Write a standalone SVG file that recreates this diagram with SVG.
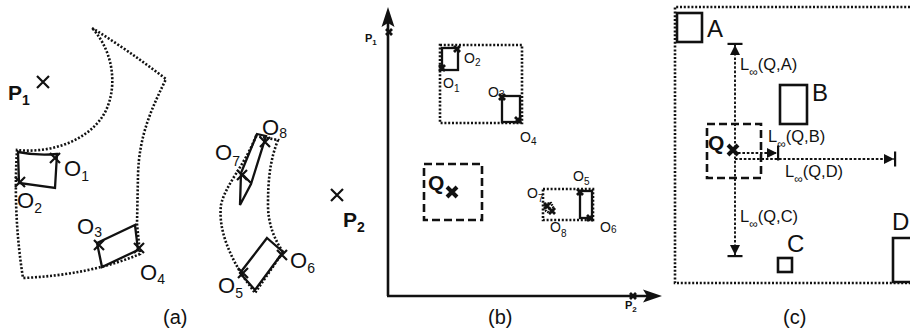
<svg xmlns="http://www.w3.org/2000/svg" width="910" height="335" viewBox="0 0 910 335">
<style>
.dot{fill:none;stroke:#111;stroke-width:2.6;stroke-dasharray:2 1.8}
.sol{fill:none;stroke:#111;stroke-width:2.3}
.sol2{fill:none;stroke:#111;stroke-width:2.6}
.x{fill:none;stroke:#111;stroke-width:2.2}
.xb{fill:none;stroke:#111;stroke-width:2.8}
.xq{fill:none;stroke:#111;stroke-width:4}
.dash{fill:none;stroke:#111;stroke-width:2.6;stroke-dasharray:8 4}
.conn{fill:none;stroke:#111;stroke-width:1.9;stroke-dasharray:2.6 1.8}
.axis{fill:none;stroke:#111;stroke-width:2.6}
text{font-family:"Liberation Sans",Arial,sans-serif;fill:#111}
.oa{font-size:22px}
.sa{font-size:14px}
.ob{font-size:14px}
.sb{font-size:10px}
.big{font-size:24px}
.pb{font-weight:bold}
.cap{font-size:20px}
.lt{font-size:16.5px}
.inf{font-size:12px}
</style>
<defs>
<marker id="tee" viewBox="0 -8 13 16" markerWidth="13" markerHeight="16" refX="11" refY="0" orient="auto" markerUnits="userSpaceOnUse">
<path d="M0 -5 L10 0 L0 5 Z" fill="#111"/>
<rect x="10" y="-7.5" width="2.2" height="15" fill="#111"/>
</marker>
</defs>

<!-- Panel (a) -->
<g id="panel-a">
<g id="region-a1">
<path class="dot" d="M 92 28 Q 128 50 166 79 C 152 108 139 135 138 175 L 137 224 L 140 254 Q 90 275 23 278 Q 13 215 17 150 C 45 153 80 145 100 120 C 118 97 117 55 92 28 Z"/>
</g>
<g id="a-O1O2">
<path class="sol" d="M 18 152 Q 38 156 57 154 L 55 188 L 19 183 Z"/>
<path class="x" d="M 50 153 L 60 163 M 60 153 L 50 163"/>
<path class="x" d="M 15 177 L 25 187 M 25 177 L 15 187"/>
<text class="oa" x="64" y="176">O<tspan class="sa" dy="5">1</tspan></text>
<text class="oa" x="17" y="208">O<tspan class="sa" dy="5">2</tspan></text>
</g>
<g id="a-O3O4">
<path class="sol" d="M 97 243 L 135 225 L 138 250 L 102 267 Z"/>
<path class="x" d="M 94 240 L 104 250 M 104 240 L 94 250"/>
<path class="x" d="M 134 243 L 144 253 M 144 243 L 134 253"/>
<text class="oa" x="77" y="234">O<tspan class="sa" dy="3">3</tspan></text>
<text class="oa" x="140" y="280">O<tspan class="sa" dy="4">4</tspan></text>
</g>
<g id="region-a2">
<path class="dot" d="M 256 136 C 245 165 225 185 221 205 C 218 230 230 255 242 275 L 255 293 L 283 252 C 275 240 268 225 268 205 C 268 180 270 160 278 140 Z"/>
</g>
<g id="a-O5O6">
<path class="sol" d="M 267 238 L 283 252 L 255 290 L 240 273 Z"/>
<path class="x" d="M 238 268 L 248 278 M 248 268 L 238 278"/>
<path class="x" d="M 277 250 L 287 260 M 287 250 L 277 260"/>
<text class="oa" x="218" y="293">O<tspan class="sa" dy="5">5</tspan></text>
<text class="oa" x="290" y="268">O<tspan class="sa" dy="5">6</tspan></text>
</g>
<g id="a-O7O8">
<path class="sol" d="M 257 134 L 266 136 L 251 184 L 240 205 L 241 173 Z M 241 173 L 251 183"/>
<path class="x" d="M 237 170 L 247 180 M 247 170 L 237 180"/>
<path class="x" d="M 260 137 L 270 147 M 270 137 L 260 147"/>
<text class="oa" x="215" y="160">O<tspan class="sa" dy="6">7</tspan></text>
<text class="oa" x="262" y="135">O<tspan class="sa" dy="3">8</tspan></text>
</g>
<g id="a-P1">
<path class="x" d="M 37 76 L 49 88 M 49 76 L 37 88"/>
<text class="pb" font-size="21" x="8" y="100">P<tspan class="sa" dy="5">1</tspan></text>
</g>
<g id="a-P2">
<path class="x" d="M 331 189 L 343 201 M 343 189 L 331 201"/>
<text class="pb" font-size="21" x="343" y="227">P<tspan class="sa" dy="5">2</tspan></text>
</g>
<text class="cap" x="163" y="324">(a)</text>
</g>

<!-- Panel (b) -->
<g id="panel-b">
<g id="b-axes">
<path class="axis" d="M 388 296 L 388 22 M 387 296 L 648 296"/>
<path d="M 388 7 L 394.5 27 L 388 23 L 381.5 27 Z" fill="#111"/>
<path d="M 662 296 L 643 289.5 L 647 296 L 643 302.5 Z" fill="#111"/>
<path class="xb" d="M 386 29 L 392 35 M 392 29 L 386 35"/>
<text class="pb" font-size="11" x="365" y="42">P<tspan font-size="8" dy="3">1</tspan></text>
<path class="xb" d="M 630 293 L 636 299 M 636 293 L 630 299"/>
<text class="pb" font-size="11" x="625" y="309">P<tspan font-size="8" dy="3">2</tspan></text>
</g>
<g id="b-group1">
<rect class="dot" x="440" y="45" width="82" height="78"/>
<rect class="sol" x="442" y="48" width="16" height="22"/>
<path class="xb" d="M 454 46 L 460 52 M 460 46 L 454 52"/>
<path class="xb" d="M 439 65 L 445 71 M 445 65 L 439 71"/>
<text class="ob" x="464" y="63">O<tspan class="sb" dy="3">2</tspan></text>
<text class="ob" x="443" y="88">O<tspan class="sb" dy="4">1</tspan></text>
<rect class="sol" x="502" y="96" width="18" height="26"/>
<path class="xb" d="M 499 94 L 505 100 M 505 94 L 499 100"/>
<path class="xb" d="M 515 117 L 521 123 M 521 117 L 515 123"/>
<text class="ob" x="488" y="97">O<tspan class="sb" dy="1">3</tspan></text>
<text class="ob" x="520" y="142">O<tspan class="sb" dy="3">4</tspan></text>
</g>
<g id="b-group2">
<rect class="dot" x="543" y="189" width="50" height="31"/>
<rect class="sol" x="580" y="191" width="12" height="27"/>
<path class="xb" d="M 577 189 L 583 195 M 583 189 L 577 195"/>
<path class="xb" d="M 587 215 L 593 221 M 593 215 L 587 221"/>
<path d="M 545 204 L 551 203 L 554 209 L 550 213 L 546 211 Z" fill="none" stroke="#111" stroke-width="2.4" stroke-dasharray="1.5 1"/>
<path class="xb" d="M 544 203 L 550 209 M 550 203 L 544 209"/>
<path class="xb" d="M 549 208 L 555 214 M 555 208 L 549 214"/>
<text class="ob" x="573" y="181">O<tspan class="sb" dy="4">5</tspan></text>
<text class="ob" x="600" y="232">O<tspan class="sb" dy="1">6</tspan></text>
<text class="ob" x="527" y="198">O<tspan class="sb" dy="4">7</tspan></text>
<text class="ob" x="550" y="232">O<tspan class="sb" dy="5">8</tspan></text>
</g>
<g id="b-Q">
<rect class="dash" x="424" y="164" width="58" height="56"/>
<path class="xq" d="M 447 187 L 457 197 M 457 187 L 447 197"/>
<text class="pb" font-size="21" x="428" y="190">Q</text>
</g>
<text class="cap" x="488" y="324">(b)</text>
</g>

<!-- Panel (c) -->
<g id="panel-c">
<path class="dot" d="M 910 7 L 675 7 L 675 283 L 910 283"/>
<g id="c-A">
<rect class="sol2" x="677" y="13" width="25" height="29"/>
<text class="big" x="707" y="37">A</text>
</g>
<g id="c-B">
<rect class="sol2" x="780" y="85" width="27" height="39"/>
<text class="big" x="812" y="101">B</text>
</g>
<g id="c-C">
<rect class="sol2" x="778" y="258" width="14" height="14"/>
<text class="big" x="787" y="252">C</text>
</g>
<g id="c-D">
<path class="sol2" d="M 912 238 L 893 238 L 893 282 L 912 282"/>
<text class="big" x="892" y="230">D</text>
</g>
<g id="c-Q">
<rect class="dash" x="707" y="124" width="54" height="54"/>
<text class="pb" font-size="21" x="708" y="150">Q</text>
<path class="xq" d="M 728 145 L 738 155 M 738 145 L 728 155"/>
</g>
<g id="connectors">
<path class="conn" d="M 735 148 L 735 44" marker-end="url(#tee)"/>
<path class="conn" d="M 735 152 L 735 256" marker-end="url(#tee)"/>
<path class="conn" d="M 738 153 L 778 153" marker-end="url(#tee)"/>
<path class="conn" d="M 735 159 L 895 159" marker-end="url(#tee)"/>
</g>
<text class="lt" x="740" y="70">L<tspan class="inf" dy="6">∞</tspan><tspan dy="-6">(Q,A)</tspan></text>
<text class="lt" x="768" y="142">L<tspan class="inf" dy="6">∞</tspan><tspan dy="-6">(Q,B)</tspan></text>
<text class="lt" x="785" y="177">L<tspan class="inf" dy="6">∞</tspan><tspan dy="-6">(Q,D)</tspan></text>
<text class="lt" x="740" y="222">L<tspan class="inf" dy="6">∞</tspan><tspan dy="-6">(Q,C)</tspan></text>
<text class="cap" x="783" y="324">(c)</text>
</g>
</svg>
